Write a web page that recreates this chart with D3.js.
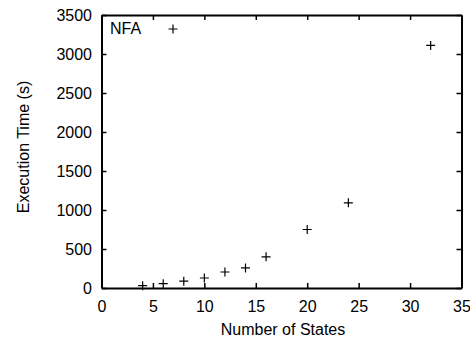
<!DOCTYPE html>
<html>
<head>
<meta charset="utf-8">
<script src="https://cdn.jsdelivr.net/npm/d3@7"></script>
<style>
  body { margin: 0; background: #fff; }
  svg { font-family: "Liberation Sans", Arial, sans-serif; }
  .axis text { font-size: 16px; fill: #000; }
  .axis .domain { stroke: #000; stroke-width: 2; }
  .axis line { stroke: #000; stroke-width: 1.5; }
</style>
</head>
<body>
<svg id="chart" width="470" height="339"></svg>
<script>
// number of states vs execution time (s)
var states = [4, 6, 8, 10, 12, 14, 16, 20, 24, 32];
var execTime = [30, 55, 88, 128, 205, 258, 400, 750, 1092, 3110];
var xTicks = [0, 5, 10, 15, 20, 25, 30, 35];
var yTicks = [0, 500, 1000, 1500, 2000, 2500, 3000, 3500];
var seriesName = "NFA";

var svg = d3.select("svg");
var margin = { top: 15, right: 8.5, bottom: 51, left: 101.5 };
var width = +svg.attr("width") - margin.left - margin.right;
var height = +svg.attr("height") - margin.top - margin.bottom;

var x = d3.scaleLinear().domain([0, 35]).range([0, width]);
var y = d3.scaleLinear().domain([0, 3500]).range([height, 0]);

var g = svg.append("g")
    .attr("transform", "translate(" + margin.left + "," + margin.top + ")");

// bottom + top
g.append("g")
    .attr("class", "axis")
    .attr("transform", "translate(0," + height + ")")
    .call(d3.axisBottom(x).tickValues(xTicks).tickFormat(d3.format("d"))
        .tickSizeInner(-5).tickSizeOuter(0).tickPadding(12.5));
g.append("g")
    .attr("class", "axis")
    .call(d3.axisTop(x).tickValues(xTicks).tickSizeInner(-5).tickSizeOuter(0).tickFormat(""));

// left + right
g.append("g")
    .attr("class", "axis")
    .call(d3.axisLeft(y).tickValues(yTicks).tickFormat(d3.format("d"))
        .tickSizeInner(-5).tickSizeOuter(0).tickPadding(9.5));
g.append("g")
    .attr("class", "axis")
    .attr("transform", "translate(" + width + ",0)")
    .call(d3.axisRight(y).tickValues(yTicks).tickSizeInner(-5).tickSizeOuter(0).tickFormat(""));

// axis titles
svg.append("text")
    .attr("x", margin.left + width / 2 + 1.5)
    .attr("y", 335)
    .style("text-anchor", "middle")
    .style("font-size", "16px")
    .text("Number of States");

svg.append("text")
    .attr("transform", "rotate(-90)")
    .attr("x", -147)
    .attr("y", 29)
    .style("text-anchor", "middle")
    .style("font-size", "16px")
    .text("Execution Time (s)");

var half = 4.5;
function plus(cx, cy) {
    return "M" + (cx - half) + "," + cy + "H" + (cx + half) +
        "M" + cx + "," + (cy - half) + "V" + (cy + half);
}

g.selectAll("path.pt")
    .data(states)
    .enter().append("path")
    .attr("class", "pt")
    .attr("d", function (d, i) { return plus(x(d), y(execTime[i])); })
    .attr("stroke", "#000")
    .attr("stroke-width", 1.2)
    .attr("fill", "none");

// legend
svg.append("text")
    .attr("x", 110)
    .attr("y", 34)
    .style("font-size", "16px")
    .text(seriesName);
svg.append("path")
    .attr("d", plus(173, 29))
    .attr("stroke", "#000")
    .attr("stroke-width", 1.2);
</script>
</body>
</html>
